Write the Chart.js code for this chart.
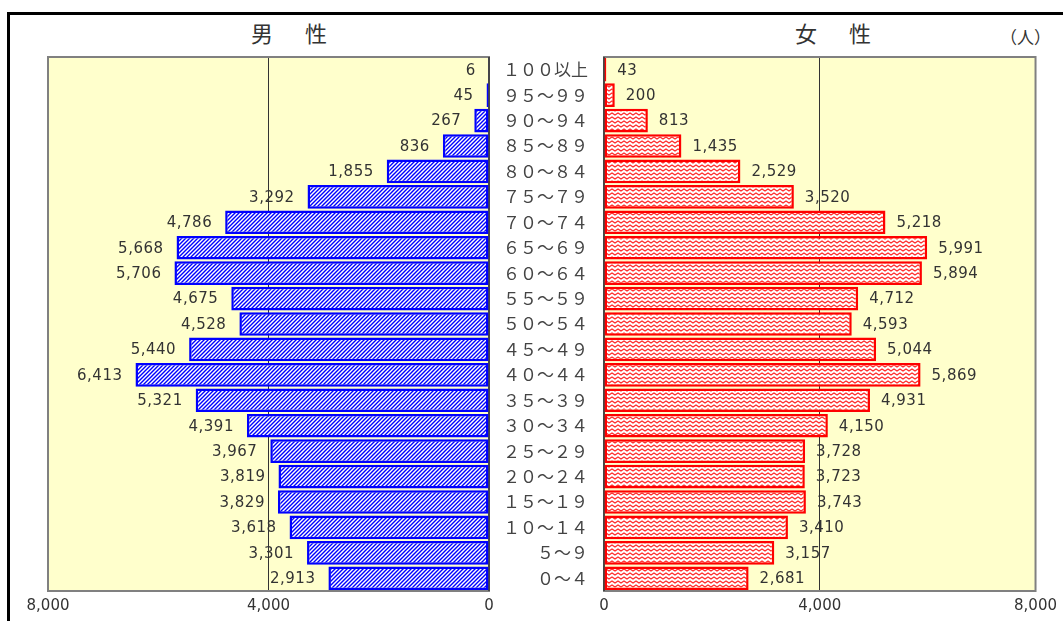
<!DOCTYPE html>
<html><head><meta charset="utf-8">
<script src="https://cdn.jsdelivr.net/npm/chart.js@4.4.0/dist/chart.umd.min.js"></script>
<style>
body{margin:0;background:#fff;}
#wrap{position:relative;width:1063px;height:621px;overflow:hidden;background:#fff;}
#frame{position:absolute;left:7px;top:12px;width:1200px;height:800px;border-top:3px solid #000;border-left:3px solid #000;}
canvas{position:absolute;top:0;}
.t{position:absolute;font-family:"Noto Sans CJK JP";color:#333;white-space:nowrap;}
</style></head><body>
<div id="wrap">
<div id="frame"></div>
<div class="t" style="left:251px;top:21px;font-size:22px;line-height:22px;letter-spacing:5px;">男　性</div>
<div class="t" style="left:795px;top:21px;font-size:22px;line-height:22px;letter-spacing:5px;">女　性</div>
<div class="t" style="left:1000px;top:28px;font-size:17px;line-height:17px;">（人）</div>
<canvas id="male" width="500" height="621" style="left:0"></canvas>
<canvas id="female" width="574" height="621" style="left:489px"></canvas>
</div>
<script>
const categories = ['１００以上','９５～９９','９０～９４','８５～８９','８０～８４','７５～７９','７０～７４','６５～６９','６０～６４','５５～５９','５０～５４','４５～４９','４０～４４','３５～３９','３０～３４','２５～２９','２０～２４','１５～１９','１０～１４','５～９','０～４'];
const maleValues = [6,45,267,836,1855,3292,4786,5668,5706,4675,4528,5440,6413,5321,4391,3967,3819,3829,3618,3301,2913];
const femaleValues = [43,200,813,1435,2529,3520,5218,5991,5894,4712,4593,5044,5869,4931,4150,3728,3723,3743,3410,3157,2681];
const xTicks = [0,4000,8000];

Chart.defaults.font.family = 'DejaVu Sans';
Chart.defaults.color = '#333';

function hatchPattern(){
  const c = document.createElement('canvas'); c.width=4; c.height=4;
  const g = c.getContext('2d');
  g.fillStyle='#fff'; g.fillRect(0,0,4,4);
  g.strokeStyle='#0000ff'; g.lineWidth=1.4;
  g.beginPath();
  g.moveTo(0,4); g.lineTo(4,0);
  g.moveTo(-1,1); g.lineTo(1,-1);
  g.moveTo(3,5); g.lineTo(5,3);
  g.stroke();
  return g.createPattern(c,'repeat');
}
function zigzagPattern(){
  const c = document.createElement('canvas'); c.width=6; c.height=4;
  const g = c.getContext('2d');
  g.fillStyle='#fff'; g.fillRect(0,0,6,4);
  g.strokeStyle='#ff2a2a'; g.lineWidth=1.2;
  g.beginPath();
  g.moveTo(-1.5,1); g.lineTo(0,3); g.lineTo(3,1); g.lineTo(6,3); g.lineTo(7.5,1);
  g.stroke();
  return g.createPattern(c,'repeat');
}

const plotFrame = {
  id:'plotFrame',
  beforeDraw(chart){
    const {ctx, chartArea:a} = chart;
    ctx.save(); ctx.fillStyle='#FFFFCC'; ctx.fillRect(a.left,a.top,a.width,a.height); ctx.restore();
  },
  beforeDatasetsDraw(chart){
    const {ctx, chartArea:a} = chart;
    ctx.save();
    ctx.strokeStyle='#808080'; ctx.lineWidth=2;
    ctx.strokeRect(a.left,a.top,a.width,a.height);
    const zx = chart.scales.x.getPixelForValue(0);
    ctx.strokeStyle='#333'; ctx.lineWidth=1.5;
    ctx.beginPath(); ctx.moveTo(zx,a.top); ctx.lineTo(zx,a.bottom); ctx.stroke();
    ctx.restore();
  }
};

function valueLabels(side){
  return {
    id:'valueLabels',
    afterDatasetsDraw(chart){
      const ctx = chart.ctx;
      const meta = chart.getDatasetMeta(0);
      const data = chart.data.datasets[0].data;
      ctx.save();
      ctx.font = '15px "DejaVu Sans"';
      ctx.fillStyle = '#333';
      ctx.textBaseline = 'middle';
      try { ctx.letterSpacing = '0.5px'; } catch(e){}
      meta.data.forEach((el,i)=>{
        const txt = data[i].toLocaleString('en-US');
        if(side==='left'){ ctx.textAlign='right'; ctx.fillText(txt, el.x-13, el.y+1); }
        else { ctx.textAlign='left'; ctx.fillText(txt, el.x+11, el.y+1); }
      });
      ctx.restore();
    }
  };
}

function xScale(reverse){
  return {
    type:'linear', reverse:reverse, min:0, max:8000,
    afterBuildTicks: s => { s.ticks = xTicks.map(v=>({value:v})); },
    afterFit: s => { s.height = 30; },
    grid:{ color: c => (c.tick && c.tick.value===4000) ? '#333' : 'rgba(0,0,0,0)', drawTicks:false, lineWidth:1 },
    border:{ display:false },
    ticks:{ padding:6, color:'#333', font:{size:15}, maxRotation:0, autoSkip:false,
      callback: v => Number(v).toLocaleString('en-US') }
  };
}

new Chart(document.getElementById('male'), {
  type:'bar',
  data:{ labels:categories, datasets:[{ data:maleValues, backgroundColor:hatchPattern(), borderColor:'#0000FF', borderWidth:2.5, borderSkipped:false, barPercentage:0.93, categoryPercentage:1 }] },
  options:{
    indexAxis:'y', responsive:false, animation:false,
    layout:{ padding:{ left:48, right:11, top:57, bottom:0 } },
    plugins:{ legend:{display:false}, tooltip:{enabled:false} },
    scales:{ x:xScale(true), y:{ type:'category', display:false } }
  },
  plugins:[plotFrame, valueLabels('left')]
});

new Chart(document.getElementById('female'), {
  type:'bar',
  data:{ labels:categories, datasets:[{ data:femaleValues, backgroundColor:zigzagPattern(), borderColor:'#FF0000', borderWidth:2.5, borderSkipped:false, barPercentage:0.93, categoryPercentage:1 }] },
  options:{
    indexAxis:'y', responsive:false, animation:false,
    layout:{ padding:{ left:0, right:27, top:57, bottom:0 } },
    plugins:{ legend:{display:false}, tooltip:{enabled:false} },
    scales:{
      x:xScale(false),
      y:{ type:'category', position:'left', afterFit: s => { s.width = 115; },
        grid:{ display:false, drawTicks:false }, border:{ display:false },
        ticks:{ crossAlign:'near', padding:16, color:'#444', font:{ family:'Noto Sans CJK JP', size:17 }, autoSkip:false } }
    }
  },
  plugins:[plotFrame, valueLabels('right')]
});
</script>
</body></html>
